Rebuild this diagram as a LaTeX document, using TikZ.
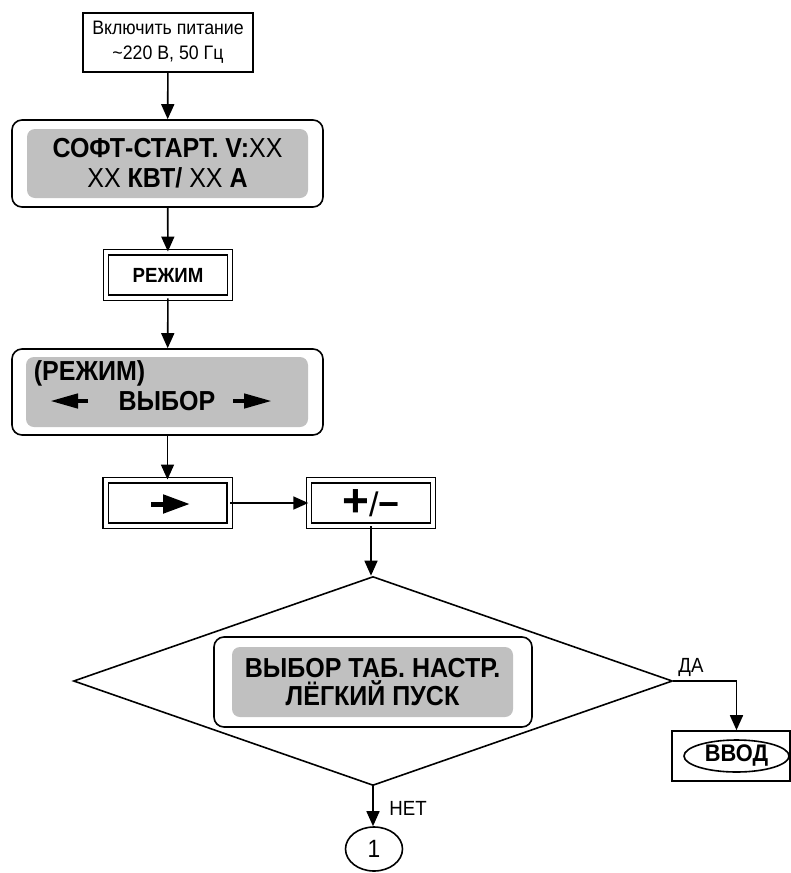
\documentclass[tikz,border=0pt]{standalone}
\usepackage{fontspec}
\setmainfont[FakeStretch=0.91]{Liberation Sans}
\newfontfamily\keyfont{Liberation Sans}
\usetikzlibrary{arrows.meta,shapes.geometric}
\definecolor{lcdgray}{RGB}{192,192,192}

\begin{document}
\begin{tikzpicture}[x=1pt,y=-1pt,line width=1.6pt,
  arr/.style={-{Triangle[length=15pt,width=13pt]}},
  plainbox/.style={draw,rectangle,inner sep=0pt,align=center},
  keybox/.style={draw,double,double distance=4pt,line width=1.4pt,inner sep=0pt,
    minimum width=124pt,minimum height=45.5pt,font=\fontsize{20.5}{24}\selectfont\bfseries},
  dispbox/.style={draw,rounded corners=10pt,fill=white,inner sep=0pt},
  dispin/.style={fill=lcdgray,rounded corners=8pt,inner sep=0pt,align=center,
    font=\fontsize{27.5}{30}\selectfont},
  lcdtext/.style={inner sep=0pt,font=\fontsize{27.5}{30}\selectfont\bfseries},
  lbl/.style={inner sep=0pt,font=\fontsize{20.5}{25}\selectfont},
  keyarrow/.style={line width=4.5pt,-{Triangle[length=28pt,width=14pt]}}]
\useasboundingbox (0,0) rectangle (791,873);

%%% power on and first display
\node[plainbox,minimum width=170pt,minimum height=59pt,font=\fontsize{19.5}{25}\selectfont]
  (power) at (168,42.5) {Включить питание\\\textasciitilde220 В, 50 Гц};
\node[dispbox,minimum width=311pt,minimum height=87pt] (disp1) at (167.5,163.5) {};
\node[dispin,minimum width=281pt,minimum height=69pt] (disp1in) at (167.5,163.5)
  {\textbf{СОФТ-СТАРТ. V:}XX\\XX \textbf{КВТ/} XX \textbf{А}};

%%% mode key and mode display
\node[keybox] (mode) at (168,275) {РЕЖИМ};
\node[dispbox,minimum width=311pt,minimum height=86pt] (disp2) at (167.5,392) {};
\node[dispin,minimum width=282pt,minimum height=70pt] (disp2in) at (167,392) {};
\node[lcdtext,anchor=west] (modetitle) at (33,373) {(РЕЖИМ)};
\node[lcdtext] (select) at (167,401) {ВЫБОР};
\draw[keyarrow] (88,401) -- (50,401);
\draw[keyarrow] (233,401) -- (272,401);

%%% keys
\node[keybox] (right) at (167.5,503) {};
\draw[line width=5pt,-{Triangle[length=27pt,width=18pt]}] (151,504) -- (190,504);
\node[keybox,font=\keyfont] (pm) at (371,503)
  {{\bfseries\fontsize{46}{46}\selectfont+}{\fontsize{34}{34}\selectfont/}{\bfseries\fontsize{36}{36}\selectfont−}};

%%% decision
\node[draw,diamond,inner sep=0pt,minimum width=599pt,minimum height=209pt] (choice) at (373,681) {};
\node[dispbox,minimum width=318pt,minimum height=90pt] (disp3) at (373,682) {};
\node[dispin,font=\fontsize{27.5}{28}\selectfont\bfseries,minimum width=281pt,minimum height=70pt]
  (disp3in) at (372.5,682) {ВЫБОР ТАБ. НАСТР.\\ЛЁГКИЙ ПУСК};

\node[plainbox,minimum width=118pt,minimum height=50pt] (enter) at (731,756) {};
\node[draw,ellipse,inner sep=0pt,minimum width=105pt,minimum height=32pt,
  font=\fontsize{24}{24}\selectfont\bfseries] (enterkey) at (736.5,756) {ВВОД};
\node[draw,ellipse,inner sep=0pt,minimum width=57pt,minimum height=44pt,
  font=\fontsize{25}{25}\selectfont] (conn1) at (374,849) {1};
\node[lbl] (yes) at (691,667) {ДА};
\node[lbl] (no) at (408,808) {НЕТ};

%%% connectors
\draw[arr] (power) -- (disp1);
\draw[arr] (disp1) -- (mode);
\draw[arr] (mode) -- (disp2);
\draw[arr] (disp2) -- (right);
\draw[arr] (right) -- (pm);
\draw[arr] (pm.south) -- (pm.south |- choice.north);
\draw[arr] (choice.east) -| (enterkey |- enter.north);
\draw[arr] (choice.south) -- (choice.south |- conn1.north);
\end{tikzpicture}
\end{document}
